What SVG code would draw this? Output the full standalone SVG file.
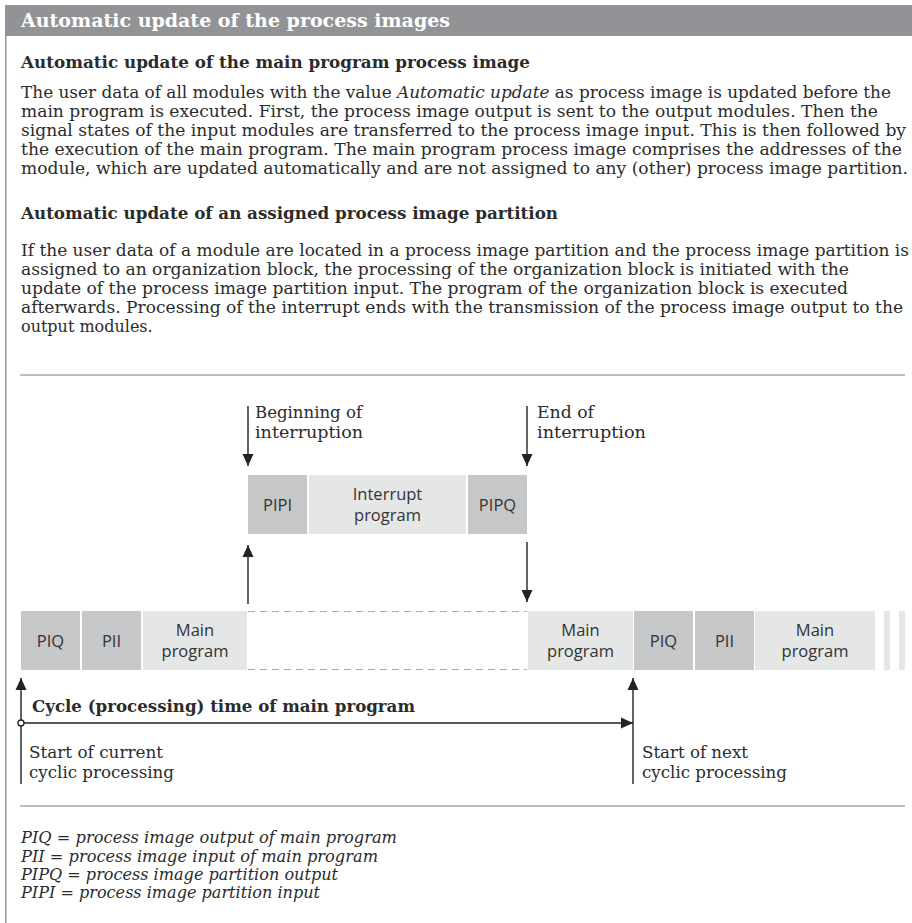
<svg xmlns="http://www.w3.org/2000/svg" width="912" height="923" viewBox="0 0 912 923">
<style>
.s{font-family:"DejaVu Serif","Liberation Serif",serif;fill:#2b2b2b;font-size:16px}
.b{font-weight:bold;font-size:17px}
.i{font-style:italic}
.lab{font-family:"Open Sans","Noto Sans",sans-serif;font-size:16.5px;fill:#333;text-anchor:middle}
.dk{fill:#c6c7c9}
.lt{fill:#e5e6e6}
.rule{stroke:#a8a8a8;stroke-width:1.5;fill:none}
.arr{stroke:#222;stroke-width:1.4;fill:none}
</style>
<defs>
<marker id="ah" markerUnits="userSpaceOnUse" markerWidth="12" markerHeight="12" viewBox="0 0 12 12" refX="12" refY="6" orient="auto">
<path d="M0,0.5 L12,6 L0,11.5 Z" fill="#222"/>
</marker>
</defs>
<rect x="0" y="0" width="912" height="923" fill="#fff"/>
<rect x="5" y="5" width="907" height="31" fill="#929396"/>
<line x1="5.75" y1="36" x2="5.75" y2="923" stroke="#9a9a9a" stroke-width="1.5"/>
<text class="s b" x="21" y="27" style="fill:#fff;font-size:18.5px" textLength="429" lengthAdjust="spacingAndGlyphs">Automatic update of the process images</text>

<text class="s b" x="21" y="68" textLength="509" lengthAdjust="spacingAndGlyphs">Automatic update of the main program process image</text>
<text class="s" x="21" y="98" textLength="870" lengthAdjust="spacingAndGlyphs">The user data of all modules with the value <tspan class="i">Automatic update</tspan> as process image is updated before the</text>
<text class="s" x="21" y="117" textLength="857" lengthAdjust="spacingAndGlyphs">main program is executed. First, the process image output is sent to the output modules. Then the</text>
<text class="s" x="21" y="136" textLength="885" lengthAdjust="spacingAndGlyphs">signal states of the input modules are transferred to the process image input. This is then followed by</text>
<text class="s" x="21" y="155" textLength="881" lengthAdjust="spacingAndGlyphs">the execution of the main program. The main program process image comprises the addresses of the</text>
<text class="s" x="21" y="174" textLength="887" lengthAdjust="spacingAndGlyphs">module, which are updated automatically and are not assigned to any (other) process image partition.</text>

<text class="s b" x="21" y="219" textLength="537" lengthAdjust="spacingAndGlyphs">Automatic update of an assigned process image partition</text>
<text class="s" x="21" y="256" textLength="888" lengthAdjust="spacingAndGlyphs">If the user data of a module are located in a process image partition and the process image partition is</text>
<text class="s" x="21" y="275" textLength="828" lengthAdjust="spacingAndGlyphs">assigned to an organization block, the processing of the organization block is initiated with the</text>
<text class="s" x="21" y="294" textLength="827" lengthAdjust="spacingAndGlyphs">update of the process image partition input. The program of the organization block is executed</text>
<text class="s" x="21" y="313" textLength="882" lengthAdjust="spacingAndGlyphs">afterwards. Processing of the interrupt ends with the transmission of the process image output to the</text>
<text class="s" x="21" y="332">output modules.</text>

<line class="rule" x1="20" y1="375" x2="905" y2="375"/>

<g id="interrupt-labels">
<text class="s" x="255" y="418" textLength="107" lengthAdjust="spacingAndGlyphs">Beginning of</text>
<text class="s" x="255" y="438" textLength="108" lengthAdjust="spacingAndGlyphs">interruption</text>
<text class="s" x="537" y="418" textLength="57" lengthAdjust="spacingAndGlyphs">End of</text>
<text class="s" x="537" y="438" textLength="109" lengthAdjust="spacingAndGlyphs">interruption</text>
</g>

<g id="PIPI"><rect class="dk" x="248" y="475" width="59" height="59"/><text class="lab" x="277.5" y="511">PIPI</text></g>
<g id="interrupt-program"><rect class="lt" x="309" y="475" width="157" height="59"/><text class="lab" x="387.5" y="500">Interrupt</text><text class="lab" x="387.5" y="521">program</text></g>
<g id="PIPQ"><rect class="dk" x="468" y="475" width="59" height="59"/><text class="lab" x="497.5" y="511">PIPQ</text></g>

<g id="PIQ-1"><rect class="dk" x="21" y="611" width="59" height="59"/><text class="lab" x="50.5" y="647">PIQ</text></g>
<g id="PII-1"><rect class="dk" x="82" y="611" width="59" height="59"/><text class="lab" x="111.5" y="647">PII</text></g>
<g id="main-1"><rect class="lt" x="143" y="611" width="104" height="59"/><text class="lab" x="195" y="636">Main</text><text class="lab" x="195" y="657">program</text></g>
<g id="gap">
<line x1="248" y1="611.5" x2="527" y2="611.5" stroke="#aaa" stroke-width="1" stroke-dasharray="7,5"/>
<line x1="248" y1="669.5" x2="527" y2="669.5" stroke="#aaa" stroke-width="1" stroke-dasharray="7,5"/>
</g>
<g id="main-2"><rect class="lt" x="528" y="611" width="105" height="59"/><text class="lab" x="580.5" y="636">Main</text><text class="lab" x="580.5" y="657">program</text></g>
<g id="PIQ-2"><rect class="dk" x="634" y="611" width="59" height="59"/><text class="lab" x="663.5" y="647">PIQ</text></g>
<g id="PII-2"><rect class="dk" x="695" y="611" width="59" height="59"/><text class="lab" x="724.5" y="647">PII</text></g>
<g id="main-3"><rect class="lt" x="755" y="611" width="120" height="59"/><text class="lab" x="815" y="636">Main</text><text class="lab" x="815" y="657">program</text></g>
<g id="continuation"><rect class="lt" x="884" y="611" width="6" height="59"/><rect class="lt" x="899" y="611" width="6" height="59"/></g>

<g id="connectors">
<line class="arr" x1="248" y1="406" x2="248" y2="466" marker-end="url(#ah)"/>
<line class="arr" x1="527" y1="406" x2="527" y2="466" marker-end="url(#ah)"/>
<line class="arr" x1="248" y1="604" x2="248" y2="545" marker-end="url(#ah)"/>
<line class="arr" x1="527" y1="542" x2="527" y2="602" marker-end="url(#ah)"/>
<line class="arr" x1="21" y1="784" x2="21" y2="678" marker-end="url(#ah)"/>
<line class="arr" x1="633" y1="784" x2="633" y2="678" marker-end="url(#ah)"/>
<line class="arr" x1="24" y1="723" x2="633" y2="723" stroke-width="1.6" marker-end="url(#ah)"/>
<circle cx="21" cy="723" r="3" fill="#fff" stroke="#222" stroke-width="1.3"/>
</g>

<g id="cycle-labels">
<text class="s b" x="32" y="712" textLength="383" lengthAdjust="spacingAndGlyphs">Cycle (processing) time of main program</text>
<text class="s" x="29" y="758" textLength="134" lengthAdjust="spacingAndGlyphs">Start of current</text>
<text class="s" x="29" y="778" textLength="145" lengthAdjust="spacingAndGlyphs">cyclic processing</text>
<text class="s" x="642" y="758" textLength="106" lengthAdjust="spacingAndGlyphs">Start of next</text>
<text class="s" x="642" y="778" textLength="145" lengthAdjust="spacingAndGlyphs">cyclic processing</text>
</g>

<line class="rule" x1="20" y1="806" x2="905" y2="806"/>

<g id="legend">
<text class="s i" x="21" y="843" textLength="376" lengthAdjust="spacingAndGlyphs">PIQ = process image output of main program</text>
<text class="s i" x="21" y="862" textLength="357" lengthAdjust="spacingAndGlyphs">PII = process image input of main program</text>
<text class="s i" x="21" y="880" textLength="317" lengthAdjust="spacingAndGlyphs">PIPQ = process image partition output</text>
<text class="s i" x="21" y="898" textLength="299" lengthAdjust="spacingAndGlyphs">PIPI = process image partition input</text>
</g>
</svg>
